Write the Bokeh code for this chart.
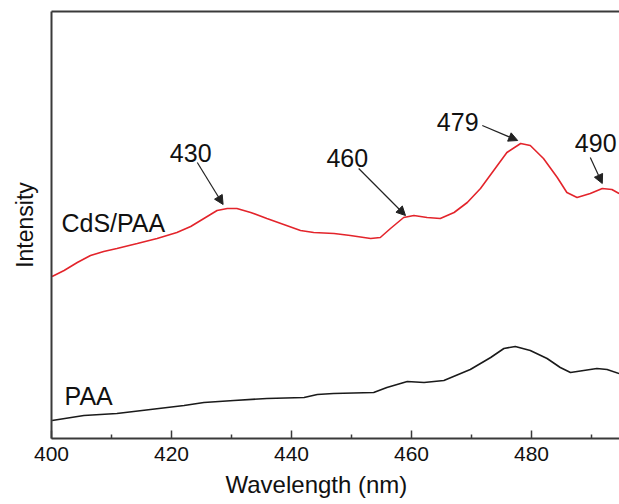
from bokeh.plotting import figure
from bokeh.models import Range1d, LinearAxis, FixedTicker, Arrow, NormalHead, Label, Title
from bokeh.embed import file_html
from bokeh.resources import INLINE

# CdS/PAA spectrum (red)
cds_nm = [400.1, 402.1, 404.3, 406.5, 408.7, 410.9, 414.3, 417.6, 420.9, 423.2, 425.4,
          427.6, 429.3, 430.9, 433.2, 435.9, 438.7, 441.5, 443.7, 447.1, 449.8, 453.2,
          454.8, 456.5, 458.7, 460.4, 462.6, 464.8, 467.1, 469.3, 471.5, 473.7, 475.9,
          478.2, 479.8, 482.0, 484.3, 485.9, 487.6, 489.8, 491.8, 493.4, 494.6]
cds_int = [162, 168, 176, 183, 187, 190, 195, 200, 206, 212, 220,
           228, 230, 230, 226, 220, 214, 208, 206, 205, 203, 200,
           201, 210, 221, 223, 221, 220, 226, 236, 250, 268, 286,
           295, 293, 280, 261, 246, 241, 245, 250, 249, 245]

# PAA spectrum (black)
paa_nm = [400.1, 405.4, 410.9, 416.5, 422.1, 425.4, 430.4, 435.9, 442.1, 444.3, 447.0,
          453.7, 455.9, 459.3, 462.1, 465.4, 469.8, 473.2, 475.4, 477.3, 479.8, 482.6,
          484.8, 486.5, 488.7, 490.9, 492.6, 494.6]
paa_int = [18, 23, 25, 29, 33, 36, 38, 40, 41, 44, 45,
           46, 51, 57, 56, 58, 69, 81, 90, 92, 88, 80,
           71, 66, 68, 70, 69, 65]

x_ticks = [400, 420, 440, 460, 480]
x_minor = [410, 430, 450, 470, 490]
peak_labels = ["430", "460", "479", "490"]

FONT = "Liberation Sans"
AX = "#3a3a3a"
TXT = "#111111"

p = figure(width=619, height=504, output_backend="svg", toolbar_location=None,
           x_range=Range1d(400, 494.67), y_range=Range1d(0, 427),
           min_border_left=51, min_border_right=0, min_border_top=11, min_border_bottom=66)
p.outline_line_color = None
p.grid.visible = False
p.background_fill_color = "white"
p.border_fill_color = "white"

p.line(cds_nm, cds_int, line_color="#e3242b", line_width=1.6)
p.line(paa_nm, paa_int, line_color="#1a1a1a", line_width=1.6)

xa = p.xaxis[0]
xa.ticker = FixedTicker(ticks=x_ticks, minor_ticks=x_minor)
xa.axis_line_color = AX
xa.axis_line_width = 2
xa.major_tick_in = 8
xa.major_tick_out = 0
xa.minor_tick_in = 4
xa.minor_tick_out = 0
xa.major_tick_line_color = AX
xa.major_tick_line_width = 1.5
xa.minor_tick_line_color = AX
xa.minor_tick_line_width = 1.5
xa.major_label_text_font = FONT
xa.major_label_text_font_size = "21px"
xa.major_label_text_color = TXT
xa.major_label_standoff = 8

# x-axis title as a title panel below the axis
p.add_layout(Title(text="Wavelength (nm)", align="left", offset=174, standoff=11,
                   text_font=FONT, text_font_size="24px", text_font_style="normal",
                   text_color=TXT), "below")

ya = p.yaxis[0]
ya.ticker = FixedTicker(ticks=[])
ya.axis_label = "Intensity"
ya.axis_line_color = AX
ya.axis_line_width = 2
ya.major_tick_line_color = None
ya.minor_tick_line_color = None
ya.major_label_text_font_size = "0px"
ya.axis_label_text_font = FONT
ya.axis_label_text_font_size = "23px"
ya.axis_label_text_font_style = "normal"
ya.axis_label_text_color = TXT
ya.axis_label_standoff = 14

top = LinearAxis(ticker=FixedTicker(ticks=[]), axis_line_color=AX, axis_line_width=2,
                 major_tick_line_color=None, minor_tick_line_color=None,
                 major_label_text_font_size="0px")
p.add_layout(top, "above")

# peak annotations: (text x, text y, arrow start x, y, arrow end x, y)
ann = [
    (423.2, 286, 424.3, 276, 428.6, 234),
    (449.3, 281, 451.2, 270, 459.0, 223),
    (467.7, 317, 471.8, 313, 477.7, 298),
    (490.7, 296, 489.8, 281, 491.8, 255),
]
for lab, (tx, ty, x0, y0, x1, y1) in zip(peak_labels, ann):
    p.add_layout(Label(x=tx, y=ty, text=lab, text_font=FONT, text_font_size="25px",
                       text_align="center", text_baseline="middle", text_color=TXT))
    p.add_layout(Arrow(x_start=x0, y_start=y0, x_end=x1, y_end=y1,
                       line_color="#222222", line_width=1.2,
                       end=NormalHead(size=9, fill_color="#222222", line_color="#222222")))

p.add_layout(Label(x=410.3, y=216, text="CdS/PAA", text_font=FONT, text_font_size="25px",
                   text_align="center", text_baseline="middle", text_color=TXT))
p.add_layout(Label(x=406.2, y=43, text="PAA", text_font=FONT, text_font_size="25px",
                   text_align="center", text_baseline="middle", text_color=TXT))

open("out.html", "w").write(file_html(p, INLINE))
